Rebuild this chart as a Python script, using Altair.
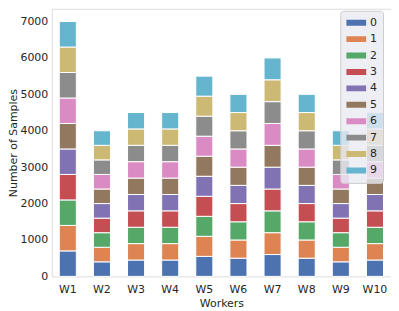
import altair as alt
import pandas as pd

workers = ["W1", "W2", "W3", "W4", "W5", "W6", "W7", "W8", "W9", "W10"]
classes = ["0", "1", "2", "3", "4", "5", "6", "7", "8", "9"]
per_class = [700, 400, 450, 450, 550, 500, 600, 500, 400, 450]
colors = ["#4C72B0", "#DD8452", "#55A868", "#C44E52", "#8172B3",
          "#937860", "#DA8BC3", "#8C8C8C", "#CCB974", "#64B5CD"]

rows = []
for w, v in zip(workers, per_class):
    for i, c in enumerate(classes):
        rows.append({"worker": w, "cls": c, "ord": i, "value": v})
df = pd.DataFrame(rows)

chart = alt.Chart(df).mark_bar(stroke="white", strokeWidth=1).encode(
    x=alt.X("worker:N", sort=workers,
            scale=alt.Scale(paddingInner=0.5, paddingOuter=0.22),
            axis=alt.Axis(title="Workers", labelAngle=0, ticks=False, domain=False,
                          labelFontSize=11, titleFontSize=11, labelPadding=7,
                          titlePadding=3, labelColor="#262626", titleColor="#262626",
                          titleFontWeight="normal", labelFont="DejaVu Sans",
                          titleFont="DejaVu Sans")),
    y=alt.Y("value:Q", stack="zero",
            scale=alt.Scale(domain=[0, 7350], nice=False),
            axis=alt.Axis(title="Number of Samples", values=[0, 1000, 2000, 3000, 4000, 5000, 6000, 7000],
                          format="d", ticks=False, domain=False, grid=False,
                          labelFontSize=11, titleFontSize=11, labelPadding=4,
                          titlePadding=1, labelColor="#262626", titleColor="#262626",
                          titleFontWeight="normal", labelFont="DejaVu Sans",
                          titleFont="DejaVu Sans")),
    color=alt.Color("cls:N", sort=classes,
                    scale=alt.Scale(domain=classes, range=colors),
                    legend=alt.Legend(title=None, orient="none", legendX=290, legendY=2,
                                      symbolType="M-1,-0.3H1V0.3H-1Z", symbolSize=400,
                                      symbolStrokeWidth=0, clipHeight=12, rowPadding=4.5,
                                      labelFontSize=11, labelColor="#262626",
                                      labelFont="DejaVu Sans", padding=6,
                                      fillColor="rgba(234,234,242,0.8)",
                                      strokeColor="#cccccc", cornerRadius=3,
                                      symbolOpacity=1)),
    order=alt.Order("ord:Q", sort="ascending"),
).properties(
    width=341, height=269,
    autosize=alt.AutoSizeParams(type="none"),
    padding={"left": 44, "top": 0, "right": 0, "bottom": 34},
).configure_view(
    fill="#EAEAF2", stroke=None
).configure(background="white")

chart.save("out.html", embed_options={"renderer": "svg", "actions": False})
